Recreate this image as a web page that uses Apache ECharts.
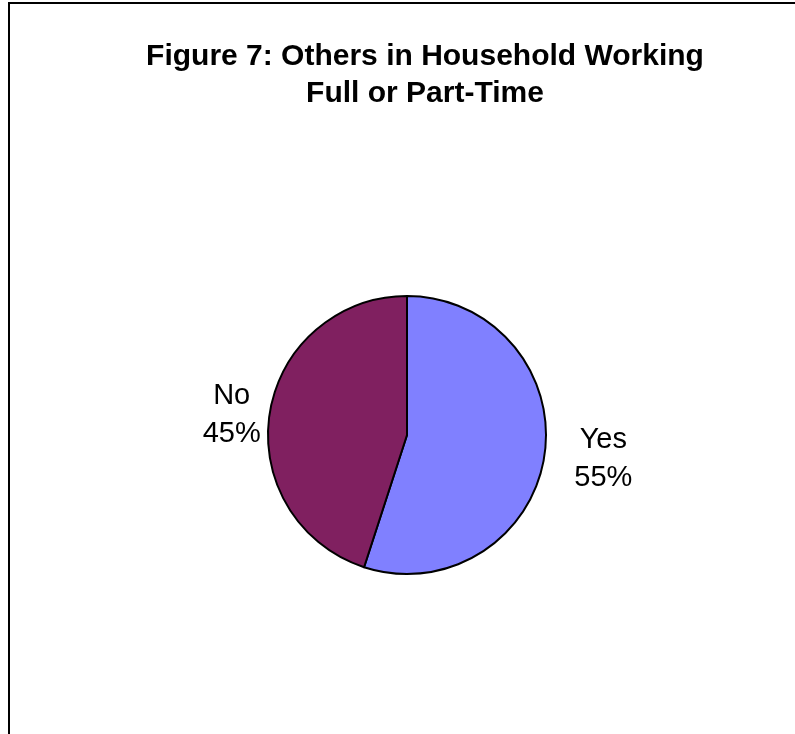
<!DOCTYPE html>
<html>
<head>
<meta charset="utf-8">
<style>
  html, body { margin: 0; padding: 0; background: #fff; }
  #chart { width: 795px; height: 734px; }
</style>
<script src="https://cdn.jsdelivr.net/npm/echarts@6/dist/echarts.min.js"></script>
</head>
<body>
<div id="chart"></div>
<script>
const titleLines = ['Figure 7: Others in Household Working', 'Full or Part-Time'];
const categories = ['Yes', 'No'];
const values = [55, 45];
const colors = ['#8080FF', '#802060'];
const labelGap = [25, 4];

const FONT = "'Liberation Sans', Arial, sans-serif";

const chart = echarts.init(document.getElementById('chart'), null, { renderer: 'canvas' });

const data = categories.map((c, i) => ({
  name: c,
  value: values[i],
  itemStyle: { color: colors[i] },
  labelLine: { length: 0, length2: labelGap[i], show: false }
}));

chart.setOption({
  backgroundColor: '#ffffff',
  animation: false,
  title: {
    text: titleLines.join('\n'),
    left: 425,
    textAlign: 'center',
    top: 38,
    padding: 0,
    textStyle: {
      fontFamily: FONT,
      fontWeight: 'bold',
      fontSize: 30,
      lineHeight: 37,
      color: '#000'
    }
  },
  graphic: [{
    type: 'polyline',
    shape: { points: [[9, 740], [9, 3], [800, 3]] },
    style: { stroke: '#000', lineWidth: 2, fill: null },
    silent: true
  }],
  series: [{
    type: 'pie',
    center: [407, 435],
    radius: 139,
    startAngle: 90,
    clockwise: true,
    avoidLabelOverlap: false,
    itemStyle: { borderColor: '#000', borderWidth: 2 },
    emphasis: { disabled: true },
    label: {
      show: true,
      position: 'outside',
      padding: [4, 0, 0, 0],
      formatter: p => '{t|' + p.name + '}\n{t|' + p.value + '%}',
      rich: {
        t: {
          fontFamily: FONT,
          fontSize: 29,
          lineHeight: 38,
          color: '#000',
          align: 'center'
        }
      }
    },
    data: data
  }]
});
</script>
</body>
</html>
